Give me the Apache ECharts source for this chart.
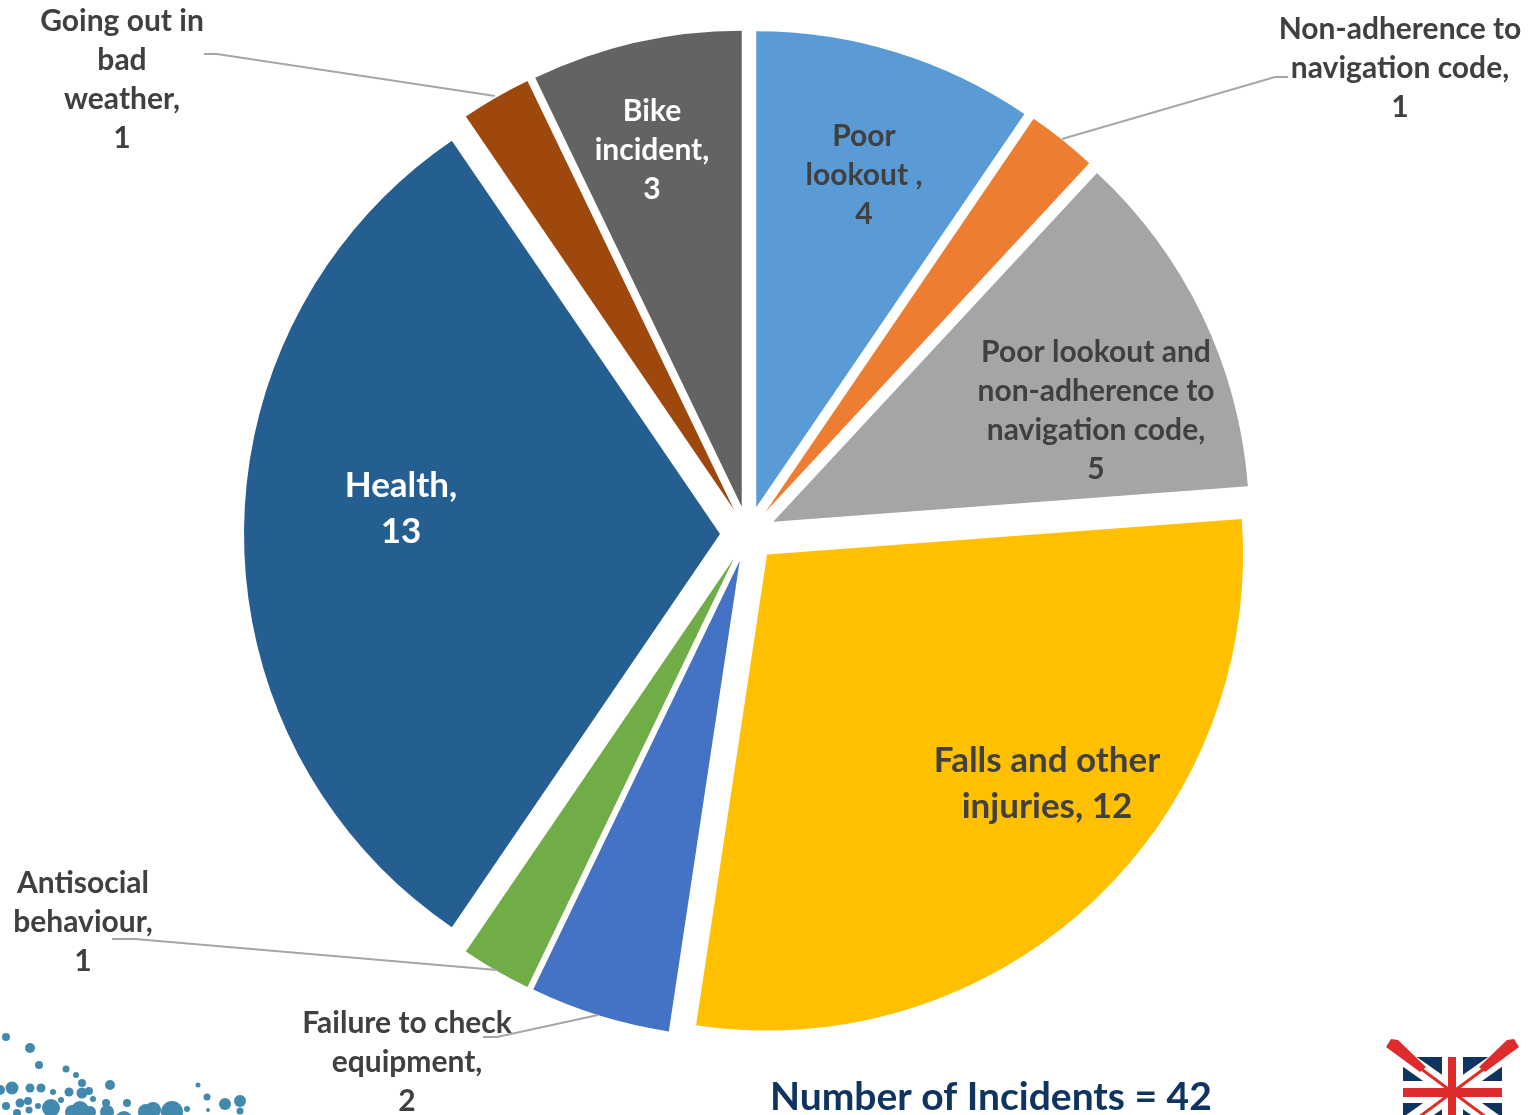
<!DOCTYPE html>
<html><head><meta charset="utf-8">
<style>html,body{margin:0;padding:0;background:#fff}#c{width:1532px;height:1115px}</style>
<script src="https://cdn.jsdelivr.net/npm/echarts@6/dist/echarts.min.js"></script>
</head><body><div id="c"></div>
<script>
const categories = ['Poor\nlookout ,','Non-adherence to\nnavigation code,','Poor lookout and\nnon-adherence to\nnavigation code,','Falls and other\ninjuries,','Failure to check\nequipment,','Antisocial\nbehaviour,','Health,','Going out in\nbad\nweather,','Bike\nincident,'];
const values = [4,1,5,12,2,1,13,1,3];
const colors = ['#5B9BD5','#ED7D31','#A5A5A5','#FFC000','#4472C4','#70AD47','#255E91','#9E480E','#636363'];
const labelColors = ['#404040','#404040','#404040','#404040','#404040','#404040','#ffffff','#404040','#ffffff'];
const labelSizes = [30,30,30,35,30,30,35,30,30];
const labelCentres = [[864,175],[1400,68],[1096,411],[1047,784],[407,1062],[83,922],[401,509],[122,80],[652,150]];
const sameLine = [false,false,false,true,false,false,false,false,false];
const leaders = {1:[[1288,77],[1275,77],[1062,139]],4:[[483,1037],[497,1037],[598,1015]],5:[[112,939],[135,939],[497,970]],7:[[204,54],[217,54],[495,96]]};
const dots = [[6,1037,4],[30,1048,5],[39,1065,4],[66,1069,3.5],[76,1075,3],[82,1083,4],[89,1091,4],[82,1093,5.5],[93,1099,3],[110,1085,5],[12,1088,6.5],[0,1090,5],[30,1088,4.5],[41,1088,4.5],[53,1092,3],[69,1092,4.5],[61,1100,3],[6,1106,4],[20,1103,4.5],[28,1101,4],[38,1106,3],[51,1108,9],[29,1110,3.5],[17,1113,4],[80,1110,9],[72,1112,7],[90,1112,6],[107,1112,7],[106,1103,4],[127,1103,4],[124,1120,9],[146,1112,8],[153,1110,8],[172,1112,11],[187,1109,3],[198,1085,2.5],[207,1097,3.5],[208,1110,2],[225,1104,6],[240,1101,6],[240,1111,3.5]];
const red='#DE2B2B', navy='#0F3460';
const oar = s => [
  {type:'polygon',shape:{points:[[1386,1047],[1391,1039],[1398,1040],[1426,1067],[1420,1072]].map(p=>[s?2905-p[0]:p[0],p[1]])},style:{fill:red}},
  {type:'line',shape:{x1:s?2905-1420:1420,y1:1068,x2:s?2905-1490:1490,y2:1120},style:{stroke:red,lineWidth:3}}
];
const chart = echarts.init(document.getElementById('c'));
chart.setOption({
  animation:false,
  graphic:[
    {type:'text',left:770,top:1078,style:{text:'Number of Incidents = 42',font:'bold 39px Lato',fill:navy}},
    ...dots.map(d=>({type:'circle',shape:{cx:d[0],cy:d[1],r:d[2]},style:{fill:'#4189AD'}})),
    {type:'rect',shape:{x:1403,y:1057,width:99,height:70},style:{fill:navy}},
    {type:'line',shape:{x1:1403,y1:1057,x2:1502,y2:1127},style:{stroke:'#fff',lineWidth:16}},
    {type:'line',shape:{x1:1502,y1:1057,x2:1403,y2:1127},style:{stroke:'#fff',lineWidth:16}},
    {type:'rect',shape:{x:1442,y:1057,width:21,height:70},style:{fill:'#fff'}},
    {type:'rect',shape:{x:1403,y:1081,width:99,height:22},style:{fill:'#fff'}},
    {type:'rect',shape:{x:1448,y:1057,width:8,height:70},style:{fill:red}},
    {type:'rect',shape:{x:1403,y:1088,width:99,height:9},style:{fill:red}},
    ...oar(false),...oar(true)
  ],
  series:[{
    type:'pie',
    radius:[0,476],
    center:[748,534],
    startAngle:90,
    clockwise:true,
    selectedMode:'multiple',
    selectedOffset:28,
    emphasis:{disabled:true},
    label:{show:false},
    labelLine:{show:false},
    data:categories.map((n,i)=>({
      name:n,value:values[i],selected:true,
      itemStyle:{color:colors[i]},
      select:{itemStyle:{color:colors[i]}}
    }))
  },{
    type:'pie',
    radius:[0,476],
    center:[748,534],
    startAngle:90,
    clockwise:true,
    silent:true,
    z:5,
    selectedMode:false,
    emphasis:{disabled:true},
    labelLine:{show:true,lineStyle:{color:'#A6A6A6',width:2}},
    data:categories.map((n,i)=>({
      name:n,value:values[i],
      itemStyle:{color:'rgba(0,0,0,0)'},
      label:{show:true,position:leaders[i]?'outside':'inside',color:labelColors[i],fontFamily:'Lato',fontWeight:'bold',fontSize:labelSizes[i],lineHeight:labelSizes[i]===35?46:39,align:'center',
        formatter:p=>p.name+(sameLine[i]?' ':'\n')+p.value},
      labelLine:{show:!!leaders[i]}
    })),
    labelLayout:p=>{
      const i=p.dataIndex;
      const o={x:labelCentres[i][0],y:labelCentres[i][1],align:'center',verticalAlign:'middle'};
      if(leaders[i]) o.labelLinePoints=leaders[i];
      return o;
    }
  }]
});
</script></body></html>
